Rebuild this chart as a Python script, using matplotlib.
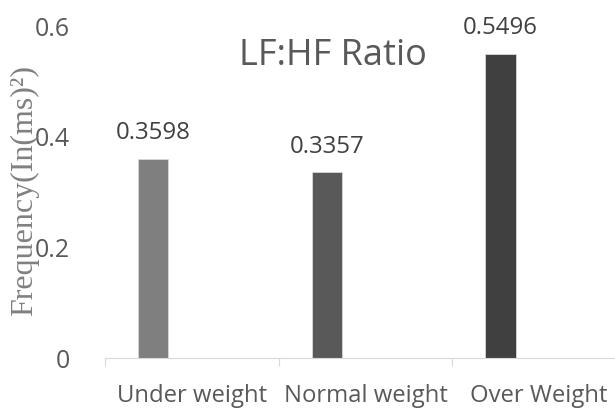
import matplotlib
matplotlib.use("Agg")
import matplotlib.pyplot as plt

# data
groups = ["Under weight", "Normal weight", "Over Weight"]
ratios = [0.3598, 0.3357, 0.5496]
bar_colors = ["#7f7f7f", "#595959", "#404040"]
y_ticks = [0, 0.2, 0.4, 0.6]
y_tick_labels = ["0", "0.2", "0.4", "0.6"]

sans = ["Open Sans", "DejaVu Sans"]
serif = ["Liberation Serif", "DejaVu Serif"]

fig = plt.figure(figsize=(6.15, 4.12), dpi=100)
ax = fig.add_axes([105 / 615, 54 / 412, 510 / 615, 332 / 412])

xs = [i - 0.223 for i in range(len(groups))]
bars = ax.bar(xs, ratios, width=0.173, color=bar_colors,
              edgecolor="#d8d8d8", linewidth=0.6)

# value labels above bars
for x, v in zip(xs, ratios):
    ax.annotate(f"{v:.4f}", xy=(x, v), xytext=(0, 14),
                textcoords="offset points", ha="center", va="baseline",
                fontsize=17.3, family=sans, color="#404040")

ax.set_xlim(-0.5, -0.5 + 510 / 173.7)
ax.set_ylim(0, 0.6)

ax.set_xticks(range(len(groups)))
ax.set_xticklabels(groups, fontsize=17.2, family=sans, color="#595959")
ax.set_xticks([-0.5, 0.5, 1.5], minor=True)
ax.tick_params(axis="x", which="major", length=0, pad=19)
ax.tick_params(axis="x", which="minor", length=6, width=0.8,
               color="#d9d9d9", direction="out")

ax.set_yticks(y_ticks)
ax.set_yticklabels(y_tick_labels, fontsize=17.9, family=sans, color="#595959")
ax.tick_params(axis="y", length=0, pad=25)

for side in ["top", "right", "left"]:
    ax.spines[side].set_visible(False)
ax.spines["bottom"].set_color("#d9d9d9")
ax.spines["bottom"].set_linewidth(0.8)

ax.set_ylabel("Frequency(In(ms)\u00b2)", fontsize=23, family=serif,
              color="#808080")
ax.yaxis.set_label_coords(-0.13, 0.505)

ax.text(0.446, 0.8825, "LF:HF Ratio", transform=ax.transAxes,
        ha="center", va="baseline", fontsize=26, family=sans,
        color="#595959")

fig.savefig("out.png", dpi=100)
